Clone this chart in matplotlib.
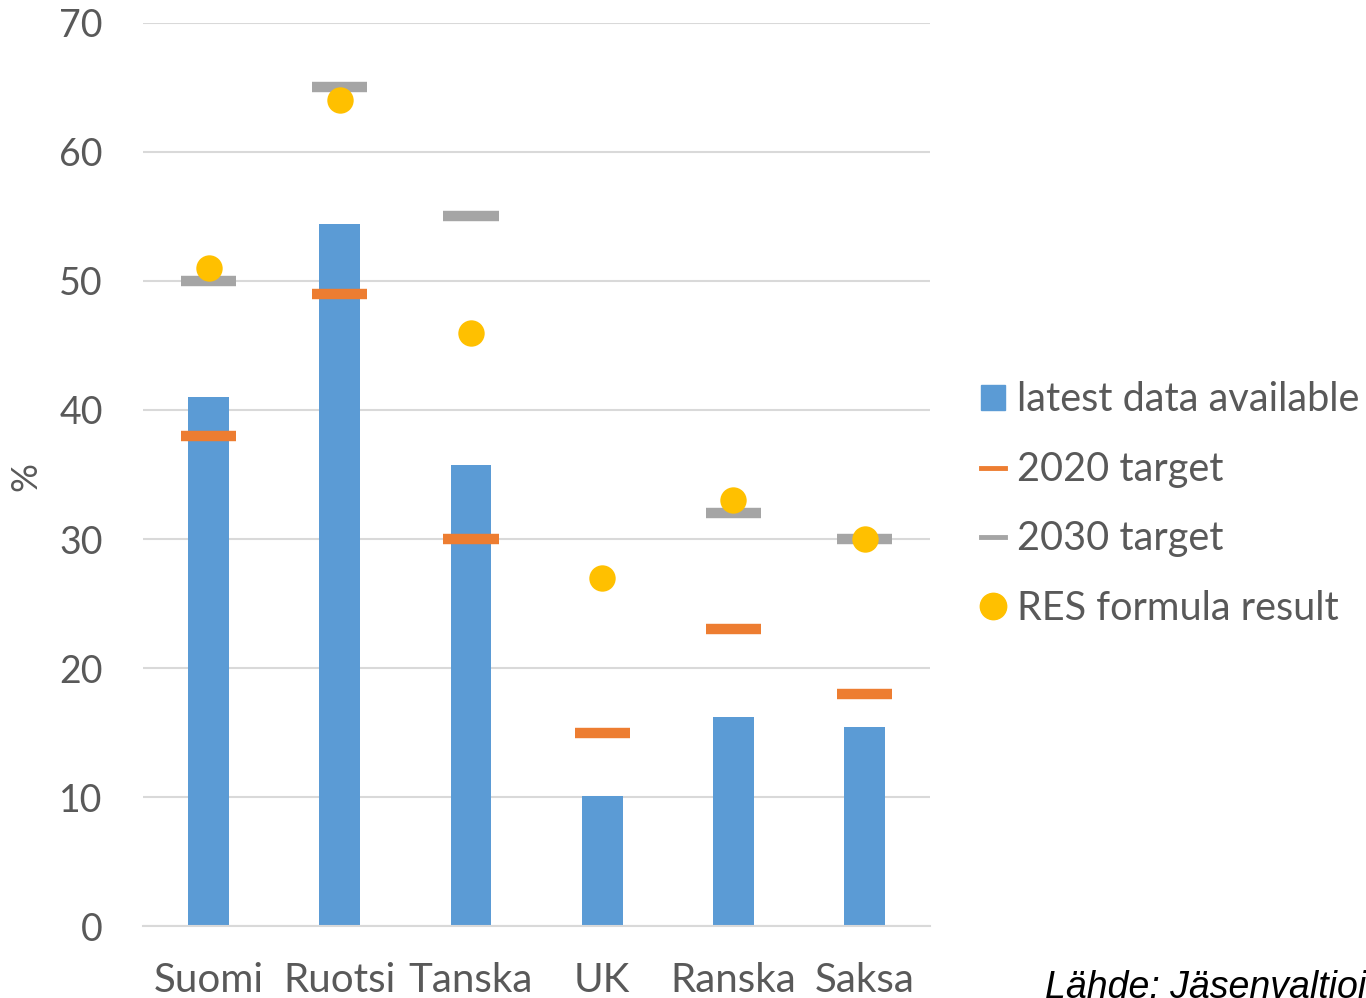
import matplotlib.pyplot as plt
from matplotlib.patches import Patch
from matplotlib.lines import Line2D
import numpy as np

plt.rcParams['font.family'] = ['Lato', 'DejaVu Sans']

maat = ['Suomi', 'Ruotsi', 'Tanska', 'UK', 'Ranska', 'Saksa']
latest = [41, 54.4, 35.7, 10.1, 16.2, 15.4]
target_2020 = [38, 49, 30, 15, 23, 18]
target_2030 = [50, 65, 55, np.nan, 32, 30]
res_formula = [51, 64, 46, 27, 33, 30]

grey_txt = '#595959'

fig = plt.figure(figsize=(13.66, 9.98), dpi=100)
ax = fig.add_axes([0.1047, 0.0721, 0.5763, 0.9049])

x = np.arange(len(maat))
ax.bar(x, latest, width=0.31, color='#5b9bd5', zorder=2)
ax.hlines(target_2020, x - 0.21, x + 0.21, color='#ed7d31', lw=7.5, zorder=3)
ax.hlines(target_2030, x - 0.21, x + 0.21, color='#a5a5a5', lw=7.5, zorder=3)
ax.plot(x, res_formula, 'o', color='#ffc000', ms=19, mew=0, zorder=4)

ax.set_xlim(-0.5, 5.5)
ax.set_ylim(0, 70)
ax.set_yticks(range(0, 71, 10))
ax.set_xticks(x)
ax.set_xticklabels(maat)
ax.grid(axis='y', color='#d9d9d9', lw=1.5, zorder=0)
for s in ['top', 'right', 'left']:
    ax.spines[s].set_visible(False)
ax.spines['bottom'].set_color('#d9d9d9')
ax.spines['bottom'].set_linewidth(1.5)
ax.tick_params(axis='both', length=0, colors=grey_txt)
ax.tick_params(axis='y', pad=29, labelsize=27)
ax.tick_params(axis='x', pad=26, labelsize=29)
ax.set_ylabel('%', fontsize=26, color=grey_txt)
ax.yaxis.set_label_coords(-0.128, 0.498)

handles = [
    Patch(color='#5b9bd5'),
    Line2D([], [], color='#ed7d31', lw=3.5),
    Line2D([], [], color='#a5a5a5', lw=3.5),
    Line2D([], [], marker='o', ls='', color='#ffc000', ms=19),
]
labels = ['latest data available', '2020 target', '2030 target', 'RES formula result']
leg = fig.legend(handles, labels, loc='center left', bbox_to_anchor=(0.692, 0.495),
                 frameon=False, fontsize=28.5, labelcolor=grey_txt, handlelength=0.6,
                 handleheight=0.6, handletextpad=0.3, labelspacing=0.82)

fig.text(0.765, 0.0, 'Lähde: Jäsenvaltioiden ilmoitukset', fontsize=27, style='italic',
         family=['Liberation Sans', 'DejaVu Sans'], color='black')

fig.savefig('out.png', dpi=100)
